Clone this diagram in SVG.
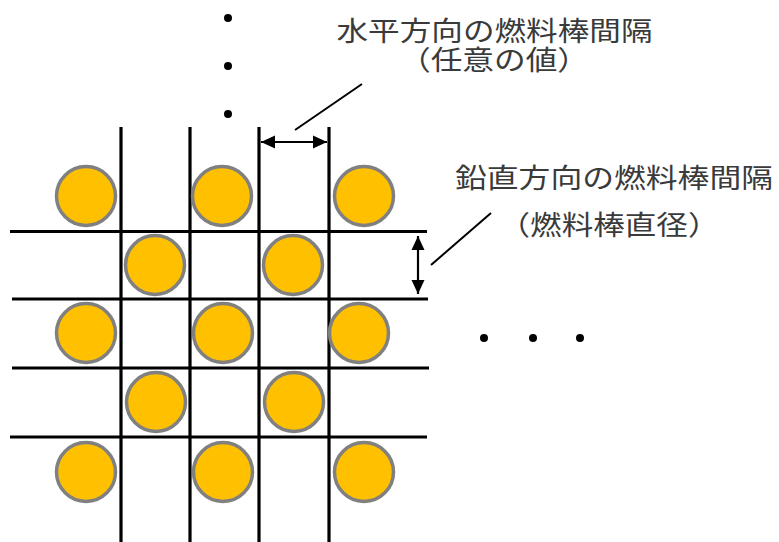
<svg xmlns="http://www.w3.org/2000/svg" width="779" height="542" viewBox="0 0 779 542">
<style>
.rod{fill:#FFC000;stroke:#808080;stroke-width:3.5}
.grid{stroke:#000;stroke-width:3.2;fill:none}
.dim{stroke:#000;stroke-width:2.2;fill:none}
.lead{stroke:#000;stroke-width:2;fill:none}
.dot{fill:#000}
.lbl{font-family:"Noto Sans CJK JP","Noto Sans CJK SC",sans-serif;font-size:27px;fill:#3a3a3a;text-anchor:middle}
</style>
<defs>
<marker id="ah" viewBox="0 0 14 14" refX="14" refY="7" markerWidth="14" markerHeight="14" markerUnits="userSpaceOnUse" orient="auto-start-reverse">
<path d="M0,0.5 L14,7 L0,13.5 Z" fill="#000"/>
</marker>
</defs>
<rect width="779" height="542" fill="#fff"/>
<g id="grid">
<line class="grid" x1="121" y1="127" x2="121" y2="542"/>
<line class="grid" x1="190" y1="127" x2="190" y2="542"/>
<line class="grid" x1="259" y1="127" x2="259" y2="542"/>
<line class="grid" x1="329" y1="127" x2="329" y2="542"/>
<line class="grid" x1="10" y1="231.5" x2="427" y2="231.5"/>
<line class="grid" x1="12" y1="299" x2="428" y2="299"/>
<line class="grid" x1="12" y1="368" x2="429" y2="368"/>
<line class="grid" x1="10" y1="437" x2="427" y2="437"/>
</g>
<g id="rods">
<circle class="rod" cx="86" cy="196" r="29.5"/>
<circle class="rod" cx="222" cy="196" r="29.5"/>
<circle class="rod" cx="364" cy="196" r="29.5"/>
<circle class="rod" cx="155" cy="265" r="29.5"/>
<circle class="rod" cx="293" cy="265" r="29.5"/>
<circle class="rod" cx="86" cy="333" r="29.5"/>
<circle class="rod" cx="223" cy="333" r="29.5"/>
<circle class="rod" cx="359" cy="333" r="29.5"/>
<circle class="rod" cx="156" cy="402" r="29.5"/>
<circle class="rod" cx="294" cy="402" r="29.5"/>
<circle class="rod" cx="86" cy="472" r="29.5"/>
<circle class="rod" cx="223" cy="472" r="29.5"/>
<circle class="rod" cx="364" cy="472" r="29.5"/>
</g>
<g id="dots">
<circle class="dot" cx="228" cy="18" r="4"/>
<circle class="dot" cx="228" cy="66" r="4"/>
<circle class="dot" cx="228" cy="114" r="4"/>
<circle class="dot" cx="484" cy="338" r="4"/>
<circle class="dot" cx="533" cy="338" r="4"/>
<circle class="dot" cx="580" cy="338" r="4"/>
</g>
<g id="connectors">
<line class="dim" x1="261" y1="142" x2="327" y2="142" marker-start="url(#ah)" marker-end="url(#ah)"/>
<line class="dim" x1="418" y1="236" x2="418" y2="294" marker-start="url(#ah)" marker-end="url(#ah)"/>
<line class="lead" x1="295" y1="130" x2="362" y2="84"/>
<line class="lead" x1="431" y1="265" x2="491" y2="213"/>
</g>
<g id="label-horizontal">
<text class="lbl" x="494.5" y="41" textLength="316" lengthAdjust="spacingAndGlyphs">水平方向の燃料棒間隔</text>
<text class="lbl" x="494" y="70" textLength="190" lengthAdjust="spacingAndGlyphs">（任意の値）</text>
</g>
<g id="label-vertical">
<text class="lbl" x="614" y="188" textLength="318" lengthAdjust="spacingAndGlyphs">鉛直方向の燃料棒間隔</text>
<text class="lbl" x="609" y="235" textLength="221" lengthAdjust="spacingAndGlyphs">（燃料棒直径）</text>
</g>
</svg>
